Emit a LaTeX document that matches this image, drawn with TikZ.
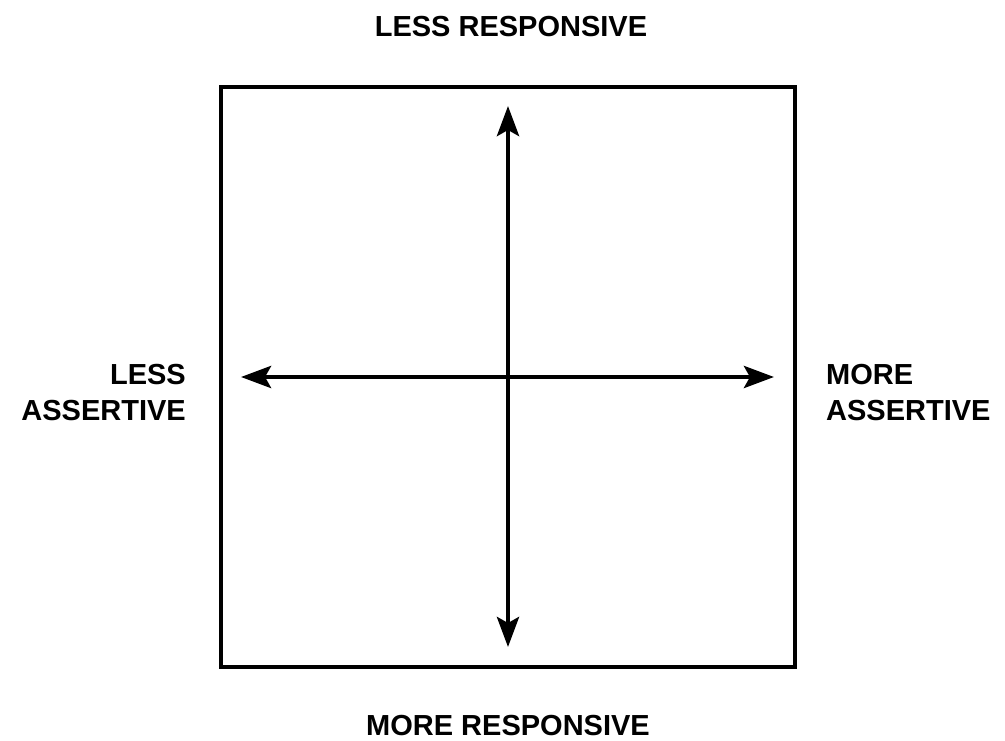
\documentclass[tikz,border=0pt]{standalone}
\usepackage{fontspec}
\setmainfont{Liberation Sans}
\usetikzlibrary{arrows.meta}
\begin{document}
\begin{tikzpicture}[x=1pt,y=-1pt,
  lbl/.style={font=\fontsize{29}{36}\selectfont\bfseries, inner sep=0pt},
  frame/.style={line width=4.5pt},
  axis/.style={line width=4.5pt, {Stealth[length=30pt,width=22pt,inset=6pt]}-{Stealth[length=30pt,width=22pt,inset=6pt]}}]
\useasboundingbox (0,0) rectangle (1005,740);
\node[frame, draw, minimum width=574pt, minimum height=580pt, inner sep=0pt] (box) at (508,377) {};
\coordinate (top) at (508,106);
\coordinate (bot) at (508,647);
\coordinate (lft) at (241,377);
\coordinate (rgt) at (774,377);
\draw[axis] (bot) -- (top);
\draw[axis] (lft) -- (rgt);
\node[lbl, anchor=base] (lr) at (511,36) {LESS RESPONSIVE};
\node[lbl, anchor=base] (mr) at (508,735) {MORE RESPONSIVE};
\node[lbl, align=right, anchor=north east] (la) at (186,364) {LESS\\ASSERTIVE};
\node[lbl, align=left, anchor=north west] (ma) at (826,364) {MORE\\ASSERTIVE};
\end{tikzpicture}
\end{document}
